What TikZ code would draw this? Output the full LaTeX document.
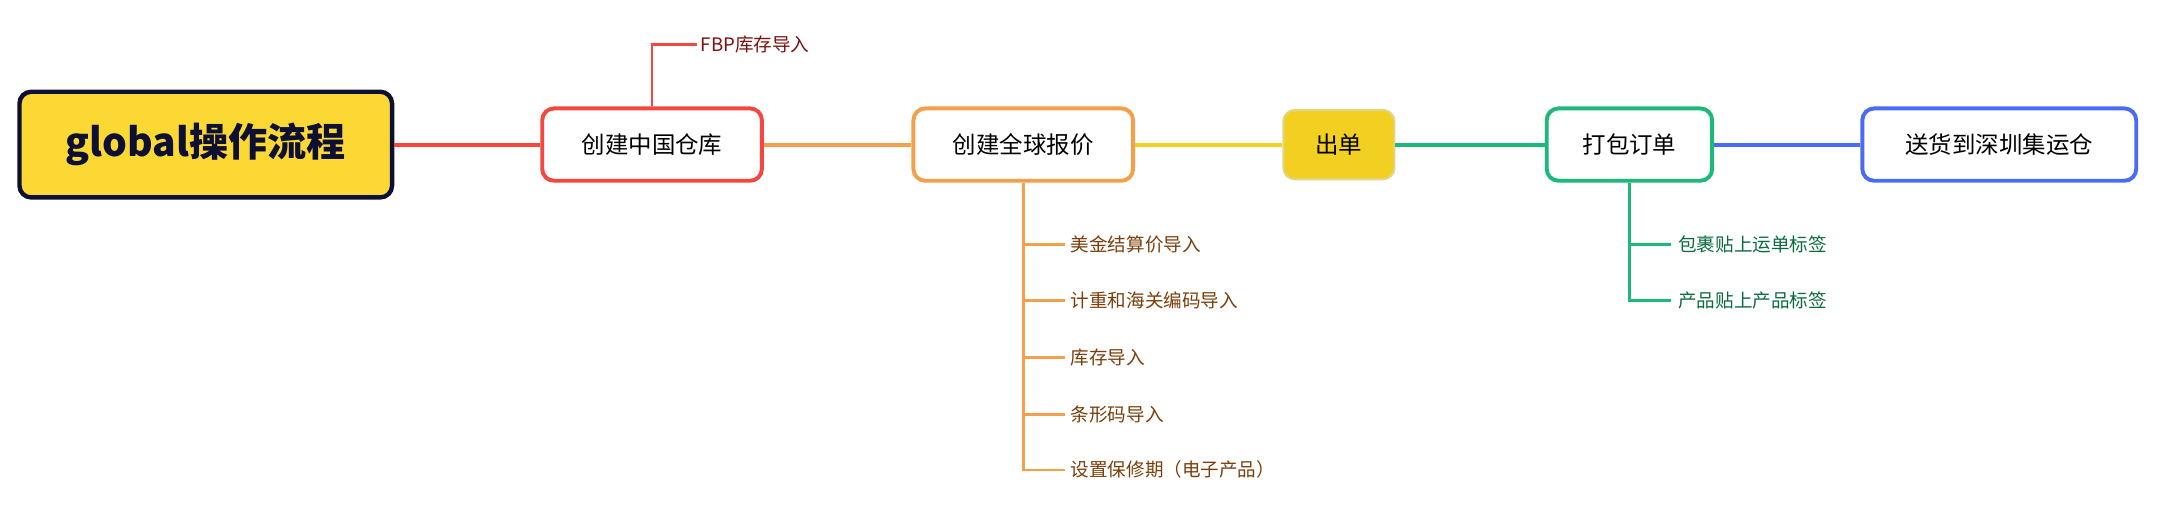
\documentclass[tikz,border=0pt]{standalone}
\usepackage{fontspec}
\setmainfont{Noto Sans CJK SC}
\definecolor{rootfill}{HTML}{FCD835}
\definecolor{rootline}{HTML}{0E1033}
\definecolor{cred}{HTML}{F5473E}
\definecolor{corange}{HTML}{F4A04A}
\definecolor{cyellow}{HTML}{F2D022}
\definecolor{cgreen}{HTML}{1DB97A}
\definecolor{cblue}{HTML}{4A6BF5}
\definecolor{tred}{HTML}{7A1010}
\definecolor{tbrown}{HTML}{7A3E0A}
\definecolor{tgreen}{HTML}{0B6B3E}
\tikzset{
  topic/.style={draw=#1, line width=4pt, rounded corners=12pt, fill=white,
    minimum height=2.6cm, font=\fontsize{24}{28}\selectfont},
  sub/.style={anchor=west, inner sep=0pt, font=\fontsize{19}{23}\selectfont},
  branch/.style={line width=2.8pt, #1},
  link/.style={line width=4pt, #1}
}
\begin{document}
\begin{tikzpicture}[x=0.05cm, y=-0.05cm]
    \useasboundingbox (0,0) rectangle (1568,365);
    % main topics
    \node[draw=rootline, line width=4.5pt, rounded corners=12pt, fill=rootfill,
      minimum width=13.4cm, minimum height=3.8cm,
      font=\fontsize{40}{44}\selectfont\bfseries, text=rootline] (root) at (148,104) {global操作流程};
    \node[topic=cred, minimum width=7.9cm] (cn) at (469,104) {创建中国仓库};
    \node[topic=corange, minimum width=7.9cm] (quote) at (736,104) {创建全球报价};
    \node[topic=cyellow!70!gray!60, fill=cyellow, minimum width=4cm, minimum height=2.5cm, line width=2pt] (out) at (963,104) {出单};
    \node[topic=cgreen, minimum width=5.95cm] (pack) at (1172,104) {打包订单};
    \node[topic=cblue, minimum width=9.85cm] (ship) at (1438,104) {送货到深圳集运仓};
    \draw[link=cred] (root) -- (cn);
    \draw[link=corange] (cn) -- (quote);
    \draw[link=cyellow] (quote) -- (out);
    \draw[link=cgreen] (out) -- (pack);
    \draw[link=cblue] (pack) -- (ship);
    % subtopics
    \node[sub, text=tred] (fbp) at (504,32) {FBP库存导入};
    \draw[branch=cred] (cn.north) |- ([xshift=-4]fbp.west);
    \foreach \name/\y/\txt in {q1/176/美金结算价导入, q2/216/计重和海关编码导入,
        q3/257/库存导入, q4/298/条形码导入, q5/338/设置保修期（电子产品）} {
      \node[sub, text=tbrown] (\name) at (770,\y) {\txt};
      \draw[branch=corange] (quote.south) |- ([xshift=-6]\name.west);
    }
    \foreach \name/\y/\txt in {p1/176/包裹贴上运单标签, p2/216/产品贴上产品标签} {
      \node[sub, text=tgreen] (\name) at (1207,\y) {\txt};
      \draw[branch=cgreen] (pack.south) |- ([xshift=-7]\name.west);
    }
\end{tikzpicture}
\end{document}
